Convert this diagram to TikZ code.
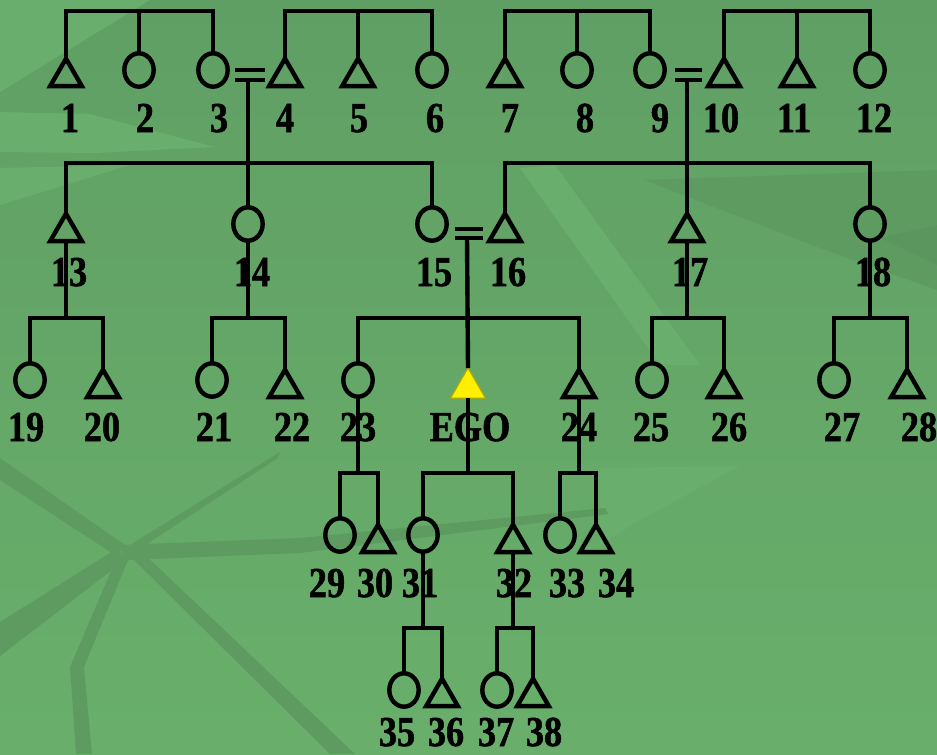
\documentclass[tikz,border=0pt]{standalone}
\usepackage{fontspec}
\newfontfamily\lblfont{Liberation Serif}[FakeStretch=0.85, BoldFeatures={FakeBold=1.2}]
\usetikzlibrary{shapes.geometric}
\definecolor{bgtop}{RGB}{96,159,100}
\definecolor{bgbot}{RGB}{105,175,107}
\definecolor{bglight}{RGB}{105,174,108}
\definecolor{bgdark}{RGB}{94,155,97}
\definecolor{bgdarker}{RGB}{90,150,93}
\definecolor{egofill}{RGB}{255,240,0}
\begin{document}
\begin{tikzpicture}[x=0.75pt,y=-0.75pt,
  kin/.style={line width=3.3pt, black},
  fem/.style={ellipse, draw=black, line width=3.3pt, minimum width=22pt, minimum height=25pt, inner sep=0pt, outer sep=0pt},
  mal/.style={regular polygon, regular polygon sides=3, draw=black, line width=3.3pt, minimum size=27.5pt, inner sep=0pt, outer sep=0pt},
  egosym/.style={regular polygon, regular polygon sides=3, fill=egofill, draw=egofill!70!black, line width=0.75pt, minimum size=30pt, inner sep=0pt, outer sep=0pt},
  lbl/.style={font=\lblfont\bfseries\fontsize{32}{32}\selectfont, anchor=base, inner sep=0pt},
]
% background
\useasboundingbox (0,0) rectangle (937,754);
\shade[top color=bgtop, bottom color=bgbot] (0,0) rectangle (937,754);
\fill[bglight] (0,0) -- (150,0) -- (0,92) -- cycle;
\fill[bglight] (0,112) -- (90,114) -- (215,147) -- (95,153) -- (0,152) -- cycle;
\fill[bglight] (0,168) -- (130,165) -- (0,205) -- cycle;
\fill[bglight] (520,168) -- (555,165) -- (700,365) -- (660,365) -- cycle;
\fill[bglight] (600,468) -- (740,466) -- (640,520) -- (600,545) -- cycle;
\fill[bgdark] (644,180) -- (937,170) -- (937,290) -- (820,248) -- cycle;
\fill[bgdarker] (880,238) -- (937,225) -- (937,265) -- cycle;
\fill[bgdark] (0,458) -- (0,480) -- (115,555) -- (125,545) -- cycle;
\fill[bgdark] (118,545) -- (300,538) -- (605,508) -- (608,514) -- (300,553) -- (125,560) -- cycle;
\fill[bgdark] (0,622) -- (118,548) -- (125,560) -- (0,656) -- cycle;
\fill[bgdark] (118,555) -- (128,560) -- (84,667) -- (92,754) -- (76,754) -- (70,667) -- cycle;
\fill[bgdark] (122,548) -- (142,552) -- (355,754) -- (330,754) -- cycle;
\fill[bgdark] (125,548) -- (280,452) -- (278,458) -- (130,555) -- cycle;

% bar levels
\coordinate (ya) at (0,11);
\coordinate (yb) at (0,163);
\coordinate (yc) at (0,318);
\coordinate (yd) at (0,473);
\coordinate (ye) at (0,628);

% row 1
\node[mal] (p1) at (66,77) {};
\node[fem] (p2) at (139,70) {};
\node[fem] (p3) at (213,70) {};
\node[mal] (p4) at (285,77) {};
\node[mal] (p5) at (358,77) {};
\node[fem] (p6) at (432,70) {};
\node[mal] (p7) at (505,77) {};
\node[fem] (p8) at (577,70) {};
\node[fem] (p9) at (650,70) {};
\node[mal] (p10) at (724,77) {};
\node[mal] (p11) at (797,77) {};
\node[fem] (p12) at (870,70) {};
% row 2
\node[mal] (p13) at (66,232) {};
\node[fem] (p14) at (248,224) {};
\node[fem] (p15) at (432,224) {};
\node[mal] (p16) at (505,232) {};
\node[mal] (p17) at (687,232) {};
\node[fem] (p18) at (870,224) {};
% row 3
\node[fem] (p19) at (30,380) {};
\node[mal] (p20) at (103,388) {};
\node[fem] (p21) at (212,380) {};
\node[mal] (p22) at (285,388) {};
\node[fem] (p23) at (358,380) {};
\node[egosym] (ego) at (468,388) {};
\node[mal] (p24) at (579,388) {};
\node[fem] (p25) at (652,380) {};
\node[mal] (p26) at (724,388) {};
\node[fem] (p27) at (834,380) {};
\node[mal] (p28) at (907,388) {};
% row 4
\node[fem] (p29) at (340,535) {};
\node[mal] (p30) at (378,543) {};
\node[fem] (p31) at (423,535) {};
\node[mal] (p32) at (513,543) {};
\node[fem] (p33) at (560,535) {};
\node[mal] (p34) at (596,543) {};
% row 5
\node[fem] (p35) at (404,690) {};
\node[mal] (p36) at (442,697) {};
\node[fem] (p37) at (497,690) {};
\node[mal] (p38) at (533,697) {};

% labels
\node[lbl] (l1) at (70,132) {1};
\node[lbl] (l2) at (145,132) {2};
\node[lbl] (l3) at (219,132) {3};
\node[lbl] (l4) at (285,132) {4};
\node[lbl] (l5) at (359,132) {5};
\node[lbl] (l6) at (435,132) {6};
\node[lbl] (l7) at (510,132) {7};
\node[lbl] (l8) at (585,132) {8};
\node[lbl] (l9) at (660,132) {9};
\node[lbl] (l10) at (721,132) {10};
\node[lbl] (l11) at (794,132) {11};
\node[lbl] (l12) at (874,132) {12};
\node[lbl] (l13) at (69,286) {13};
\node[lbl] (l14) at (252,286) {14};
\node[lbl] (l15) at (434,286) {15};
\node[lbl] (l16) at (508,286) {16};
\node[lbl] (l17) at (690,286) {17};
\node[lbl] (l18) at (873,286) {18};
\node[lbl] (l19) at (26,441) {19};
\node[lbl] (l20) at (102,441) {20};
\node[lbl] (l21) at (214,441) {21};
\node[lbl] (l22) at (292,441) {22};
\node[lbl] (l23) at (358,441) {23};
\node[lbl] (lego) at (470,441) {EGO};
\node[lbl] (l24) at (579,441) {24};
\node[lbl] (l25) at (651,441) {25};
\node[lbl] (l26) at (729,441) {26};
\node[lbl] (l27) at (842,441) {27};
\node[lbl] (l28) at (919,441) {28};
\node[lbl] (l29) at (327,597) {29};
\node[lbl] (l30) at (375,597) {30};
\node[lbl] (l31) at (420,597) {31};
\node[lbl] (l32) at (514,597) {32};
\node[lbl] (l33) at (567,597) {33};
\node[lbl] (l34) at (616,597) {34};
\node[lbl] (l35) at (397,746) {35};
\node[lbl] (l36) at (446,746) {36};
\node[lbl] (l37) at (496,746) {37};
\node[lbl] (l38) at (544,746) {38};

% marriages
\coordinate (m34l) at (235,70); \coordinate (m34r) at (265,70);
\coordinate (m34L) at (235,80); \coordinate (m34R) at (265,80);
\coordinate (m34) at (248,80);
\coordinate (m910l) at (675,70); \coordinate (m910r) at (702,70);
\coordinate (m910L) at (675,80); \coordinate (m910R) at (702,80);
\coordinate (m910) at (687,80);
\coordinate (m1516l) at (455,229); \coordinate (m1516r) at (483,229);
\coordinate (m1516L) at (455,238); \coordinate (m1516R) at (483,238);
\coordinate (m1516) at (467,238);
\draw[kin] (m34l) -- (m34r) (m34L) -- (m34R);
\draw[kin] (m910l) -- (m910r) (m910L) -- (m910R);
\draw[kin] (m1516l) -- (m1516r) (m1516L) -- (m1516R);

% sibling groups, row 1
\draw[kin] (p1.north) -- (p1.north |- ya) -- (p3.north |- ya) -- (p3.north);
\draw[kin] (p2.north) -- (p2.north |- ya);
\draw[kin] (p4.north) -- (p4.north |- ya) -- (p6.north |- ya) -- (p6.north);
\draw[kin] (p5.north) -- (p5.north |- ya);
\draw[kin] (p7.north) -- (p7.north |- ya) -- (p9.north |- ya) -- (p9.north);
\draw[kin] (p8.north) -- (p8.north |- ya);
\draw[kin] (p10.north) -- (p10.north |- ya) -- (p12.north |- ya) -- (p12.north);
\draw[kin] (p11.north) -- (p11.north |- ya);

% row 2
\draw[kin] (m34) -- (m34 |- yb);
\draw[kin] (p13.north) -- (p13.north |- yb) -- (p15.north |- yb) -- (p15.north);
\draw[kin] (p14.north) -- (p14.north |- yb);
\draw[kin] (m910) -- (m910 |- yb);
\draw[kin] (p16.north) -- (p16.north |- yb) -- (p18.north |- yb) -- (p18.north);
\draw[kin] (p17.north) -- (p17.north |- yb);

% row 3
\draw[kin] (p13.south) -- (p13.south |- yc);
\draw[kin] (p19.north) -- (p19.north |- yc) -- (p20.north |- yc) -- (p20.north);
\draw[kin] (p14.south) -- (p14.south |- yc);
\draw[kin] (p21.north) -- (p21.north |- yc) -- (p22.north |- yc) -- (p22.north);
\draw[kin] (m1516) -- (ego.north);
\draw[kin] (p23.north) -- (p23.north |- yc) -- (p24.north |- yc) -- (p24.north);
\draw[kin] (p17.south) -- (p17.south |- yc);
\draw[kin] (p25.north) -- (p25.north |- yc) -- (p26.north |- yc) -- (p26.north);
\draw[kin] (p18.south) -- (p18.south |- yc);
\draw[kin] (p27.north) -- (p27.north |- yc) -- (p28.north |- yc) -- (p28.north);

% row 4
\draw[kin] (p23.south) -- (p23.south |- yd);
\draw[kin] (p29.north) -- (p29.north |- yd) -- (p30.north |- yd) -- (p30.north);
\draw[kin] (ego.south) -- (ego.south |- yd);
\draw[kin] (p31.north) -- (p31.north |- yd) -- (p32.north |- yd) -- (p32.north);
\draw[kin] (p24.south) -- (p24.south |- yd);
\draw[kin] (p33.north) -- (p33.north |- yd) -- (p34.north |- yd) -- (p34.north);

% row 5
\draw[kin] (p31.south) -- (p31.south |- ye);
\draw[kin] (p35.north) -- (p35.north |- ye) -- (p36.north |- ye) -- (p36.north);
\draw[kin] (p32.south) -- (p32.south |- ye);
\draw[kin] (p37.north) -- (p37.north |- ye) -- (p38.north |- ye) -- (p38.north);
\end{tikzpicture}
\end{document}
